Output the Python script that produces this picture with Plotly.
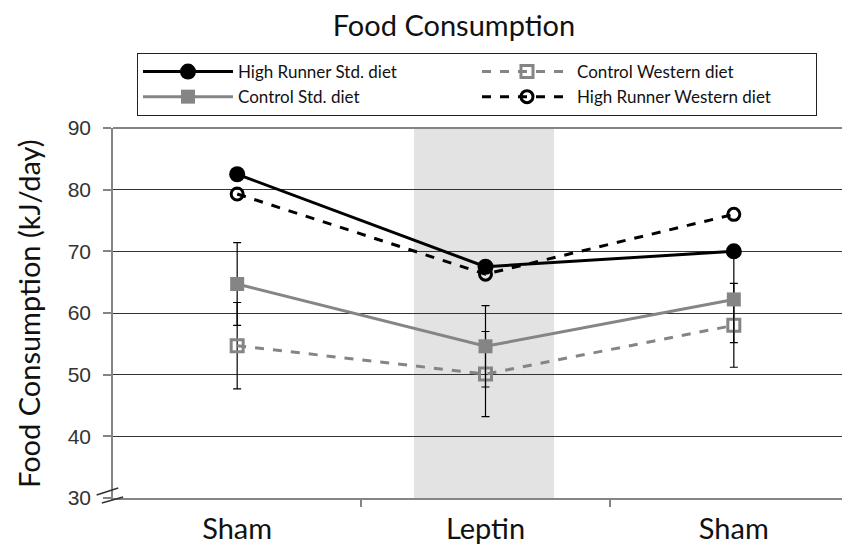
import plotly.graph_objects as go

# categories on x (positions 0, 1, 2)
phases = ["Sham", "Leptin", "Sham"]
phase_pos = [0, 1, 2]

hr_std = [82.5, 67.5, 70.0]
ctrl_western = [54.7, 50.1, 58.0]
ctrl_western_err = [7.0, 6.9, 6.8]
ctrl_std = [64.7, 54.6, 62.2]
ctrl_std_err = [6.7, 6.6, 7.0]
hr_western = [79.3, 66.3, 76.0]

leptin_band = [0.712, 1.276]
y_ticks = [30, 40, 50, 60, 70, 80, 90]

GRAY = "#858585"
TEXT_FONT = "Lato, 'Open Sans', sans-serif"

fig = go.Figure()

fig.add_trace(go.Scatter(
    x=phase_pos, y=hr_std, name="High Runner Std. diet",
    mode="lines+markers",
    line={"color": "black", "width": 3},
    marker={"symbol": "circle", "size": 16, "color": "black"},
))
fig.add_trace(go.Scatter(
    x=phase_pos, y=ctrl_western, name="Control Western diet",
    mode="lines+markers",
    line={"color": GRAY, "width": 3, "dash": "dash"},
    marker={"symbol": "square-open", "size": 12, "color": GRAY,
            "line": {"width": 3, "color": GRAY}},
    error_y={"type": "data", "array": ctrl_western_err, "color": "black",
             "thickness": 1.2, "width": 4},
))
fig.add_trace(go.Scatter(
    x=phase_pos, y=ctrl_std, name="Control Std. diet",
    mode="lines+markers",
    line={"color": GRAY, "width": 3},
    marker={"symbol": "square", "size": 14, "color": GRAY},
    error_y={"type": "data", "array": ctrl_std_err, "color": "black",
             "thickness": 1.2, "width": 4},
))
fig.add_trace(go.Scatter(
    x=phase_pos, y=hr_western, name="High Runner Western diet",
    mode="lines+markers",
    line={"color": "black", "width": 3, "dash": "dash"},
    marker={"symbol": "circle-open", "size": 12, "color": "black",
            "line": {"width": 3, "color": "black"}},
))

# leptin period shading
fig.add_shape(type="rect", xref="x", yref="y",
              x0=leptin_band[0], x1=leptin_band[1], y0=y_ticks[0], y1=y_ticks[-1],
              fillcolor="#e3e3e3", line={"width": 0}, layer="below")

# top border of the plot area is a gray line, like the bottom axis
fig.add_shape(type="line", xref="paper", yref="paper", x0=0, x1=1, y0=1, y1=1,
              line={"color": GRAY, "width": 2})

# axis break marks at the bottom of the y axis
for (x0, y0, x1, y1) in [(-0.022, 0.008, 0.007, 0.027), (-0.015, -0.0135, 0.0136, 0.0027)]:
    fig.add_shape(type="line", xref="paper", yref="paper",
                  x0=x0, y0=y0, x1=x1, y1=y1,
                  line={"color": "#333", "width": 1.5})

# y axis title, placed by hand
fig.add_annotation(text="Food Consumption (kJ/day)", xref="paper", yref="paper",
                   x=-0.1141, y=0.5, xanchor="center", yanchor="middle",
                   textangle=-90, showarrow=False,
                   font={"family": TEXT_FONT, "size": 29, "color": "#111"})

# the page adds an 8px body margin, so the figure is laid out 8px up/left
fig.update_layout(
    width=850, height=550,
    paper_bgcolor="white", plot_bgcolor="white",
    margin={"l": 105, "r": 0, "t": 120, "b": 60},
    title={"text": "Food Consumption", "x": 0.5247, "xanchor": "center",
           "y": 0.967, "yanchor": "middle", "yref": "container",
           "font": {"family": TEXT_FONT, "size": 29, "color": "#111"}},
    legend={"orientation": "h", "x": 0.0322, "y": 1.2027, "xanchor": "left", "yanchor": "top",
            "xref": "paper", "yref": "paper",
            "entrywidth": 234, "itemwidth": 90,
            "bordercolor": "#222", "borderwidth": 1, "bgcolor": "white",
            "font": {"family": TEXT_FONT, "size": 17, "color": "#111"}},
    xaxis={"range": [-0.5, 2.5], "tickvals": phase_pos, "ticktext": phases,
           "ticks": "", "ticklabelstandoff": 4,
           "showgrid": False, "zeroline": False, "automargin": False,
           "showline": True, "linecolor": GRAY, "linewidth": 2,
           "tickfont": {"family": TEXT_FONT, "size": 29, "color": "#111"},
           "minor": {"tickvals": [0.5, 1.5], "ticks": "outside", "ticklen": 7,
                     "tickcolor": GRAY, "tickwidth": 1.5}},
    yaxis={"range": [y_ticks[0], y_ticks[-1]], "tickvals": y_ticks,
           "ticks": "outside", "ticklen": 8, "tickcolor": GRAY, "tickwidth": 1.5,
           "ticklabelstandoff": 8, "automargin": False,
           "showline": True, "linecolor": GRAY, "linewidth": 1.5,
           "showgrid": True, "gridcolor": "#333", "gridwidth": 1, "zeroline": False,
           "tickfont": {"family": "Liberation Sans, Arial, sans-serif", "size": 21, "color": "#333"}},
    showlegend=True,
)

fig.write_html("out.html")
